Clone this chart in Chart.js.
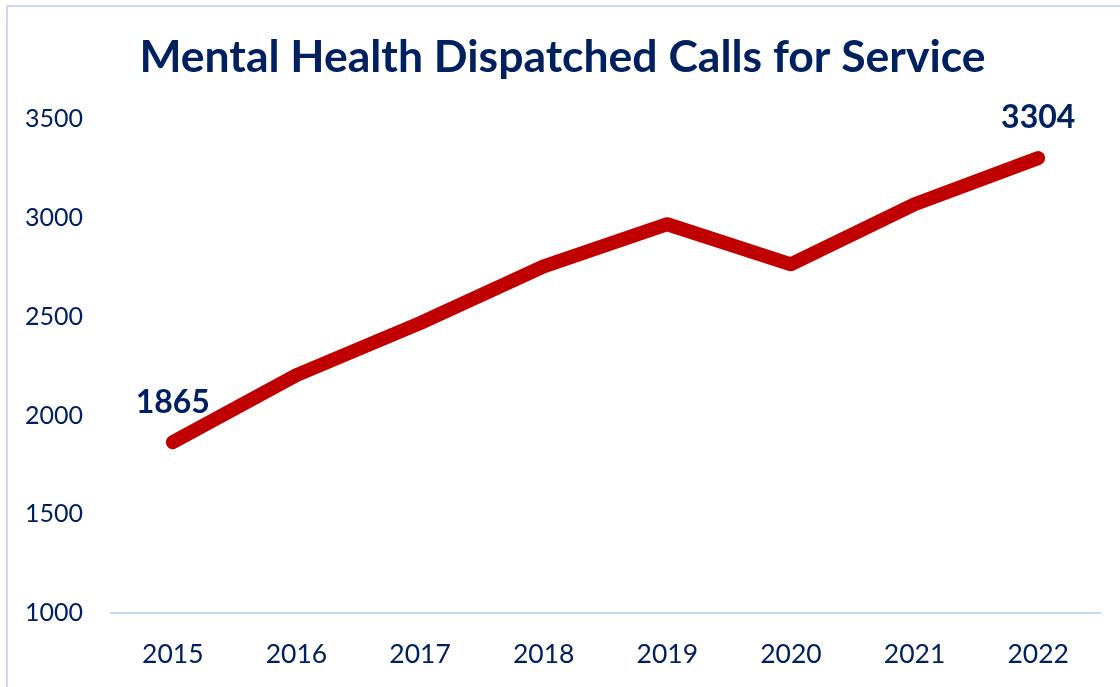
<!DOCTYPE html>
<html>
<head>
<meta charset="utf-8">
<script src="https://cdn.jsdelivr.net/npm/chart.js@4.4.1/dist/chart.umd.min.js"></script>
<style>
    body {
        margin: 0;
        background: #ffffff;
        overflow: hidden;
    }
    #frame {
        position: absolute;
        left: 6px;
        top: 5px;
        width: 1200px;
        height: 800px;
        border: 2px solid #c9daf8;
    }
    #wrap {
        position: absolute;
        left: 0;
        top: 0;
        width: 1120px;
        height: 687px;
    }
</style>
</head>
<body>
<div id="frame"></div>
<div id="wrap"><canvas id="callsChart" width="1120" height="687"></canvas></div>

<script>
const years = ["2015", "2016", "2017", "2018", "2019", "2020", "2021", "2022"];
const calls = [1865, 2205, 2468, 2756, 2969, 2766, 3070, 3304];
const labelledPoints = [0, 7];
const yMin = 1000;
const yMax = 3500;
const yStep = 500;

const navy = "#002060";

// Value labels above the first and last points
const valueLabels = {
    id: "valueLabels",
    afterDatasetsDraw(chart) {
        const ctx = chart.ctx;
        const meta = chart.getDatasetMeta(0);
        ctx.save();
        ctx.font = "bold 32px Lato";
        ctx.fillStyle = navy;
        ctx.textAlign = "center";
        ctx.textBaseline = "middle";
        labelledPoints.forEach(function (i) {
            const pt = meta.data[i];
            ctx.fillText(String(calls[i]), pt.x, pt.y - 40);
        });
        ctx.restore();
    },
};

document.addEventListener("DOMContentLoaded", function () {
    const ctx = document.getElementById("callsChart").getContext("2d");

    new Chart(ctx, {
        type: "line",
        data: {
            labels: years,
            datasets: [
                {
                    data: calls,
                    borderColor: "#c00000",
                    borderWidth: 14,
                    borderCapStyle: "round",
                    borderJoinStyle: "round",
                    pointRadius: 0,
                    pointHoverRadius: 0,
                    tension: 0,
                    fill: false,
                },
            ],
        },
        options: {
            responsive: false,
            animation: false,
            layout: {
                padding: {left: 25, right: 20, top: 0, bottom: 0},
            },
            plugins: {
                legend: {display: false},
                tooltip: {enabled: false},
                title: {
                    display: true,
                    text: "Mental Health Dispatched Calls for Service",
                    color: navy,
                    font: {family: "Lato", size: 44.5, weight: "bold", lineHeight: 1.2},
                    padding: {top: 31, bottom: 35},
                },
            },
            scales: {
                x: {
                    offset: true,
                    grid: {display: false, drawTicks: false},
                    border: {display: true, color: "#c5d6f6", width: 2},
                    ticks: {
                        color: navy,
                        padding: 26,
                        font: {family: "Lato", size: 26.5},
                    },
                    afterFit: function (scale) {
                        scale.height = 74;
                    },
                },
                y: {
                    min: yMin,
                    max: yMax,
                    grid: {display: false, drawTicks: false},
                    border: {display: false},
                    ticks: {
                        stepSize: yStep,
                        color: navy,
                        crossAlign: "far",
                        font: {family: "Lato", size: 25},
                        callback: function (value) {
                            return String(value);
                        },
                    },
                    afterFit: function (scale) {
                        scale.width = 86;
                    },
                },
            },
        },
        plugins: [valueLabels],
    });
});
</script>
</body>
</html>
